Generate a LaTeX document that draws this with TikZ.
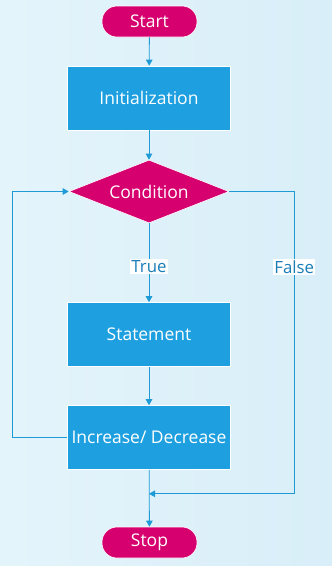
\documentclass[tikz,border=0pt]{standalone}
\usepackage{fontspec}
\setmainfont{Open Sans}
\usepackage{tikz}
\usetikzlibrary{arrows.meta,positioning,shapes.geometric}
\definecolor{FlowPink}{HTML}{D6006F}
\definecolor{FlowBlue}{HTML}{1EA0E0}
\definecolor{LineBlue}{HTML}{1E9AD6}
\definecolor{LabelBlue}{HTML}{1B7DB8}
\definecolor{BackLight}{HTML}{E4F4FB}
\definecolor{BackDark}{HTML}{D8EEF8}

\begin{document}
\begin{tikzpicture}[x=1pt,y=-1pt,
  terminal/.style={draw=white,line width=0.6pt,fill=FlowPink,text=white,rounded corners=15pt,minimum width=95pt,minimum height=31pt,inner sep=0pt,font=\fontsize{17.5}{19}\selectfont},
  process/.style={draw=white,line width=0.6pt,fill=FlowBlue,text=white,minimum width=163pt,minimum height=64pt,inner sep=0pt,font=\fontsize{17.5}{19}\selectfont},
  decision/.style={diamond,aspect=2.54,draw=white,line width=0.6pt,fill=FlowPink,text=white,minimum width=160pt,minimum height=63pt,inner sep=0pt,font=\fontsize{17.5}{19}\selectfont},
  lbl/.style={fill=white,text=LabelBlue,inner sep=1.2pt,font=\fontsize{16.8}{18}\selectfont},
  arr/.style={-{Triangle[length=6pt,width=6.5pt]},draw=LineBlue,line width=0.8pt}]
\shade[left color=BackLight,right color=BackDark] (0,0) rectangle (332,566);
\useasboundingbox (0,0) rectangle (332,566);
\node[terminal] (start) at (149.5,21.5) {Start};
\node[process] (init) at (149,98) {Initialization};
\node[decision] (cond) at (149,191.5) {Condition};
\node[process] (stmt) at (149,334.5) {Statement};
\node[process] (inc) at (149,437.5) {Increase/ Decrease};
\node[terminal] (stop) at (149.5,542.5) {Stop};
\coordinate (merge) at ([yshift=-24pt]inc.south);
\coordinate (fturn) at ([xshift=65pt]cond.east);
\coordinate (lturn) at ([xshift=-55pt]inc.west);
\draw[arr] (start) -- (init);
\draw[arr] (init) -- (cond);
\draw[arr] (cond) -- node[lbl,pos=0.55]{True} (stmt);
\draw[arr] (stmt) -- (inc);
\draw[arr] (inc) -- (stop);
\draw[arr] (inc.west) -- (lturn) |- (cond.west);
\draw[arr] (cond.east) -- (fturn) -- node[lbl,pos=0.25]{False} (fturn |- merge) -- (merge);
\end{tikzpicture}
\end{document}
